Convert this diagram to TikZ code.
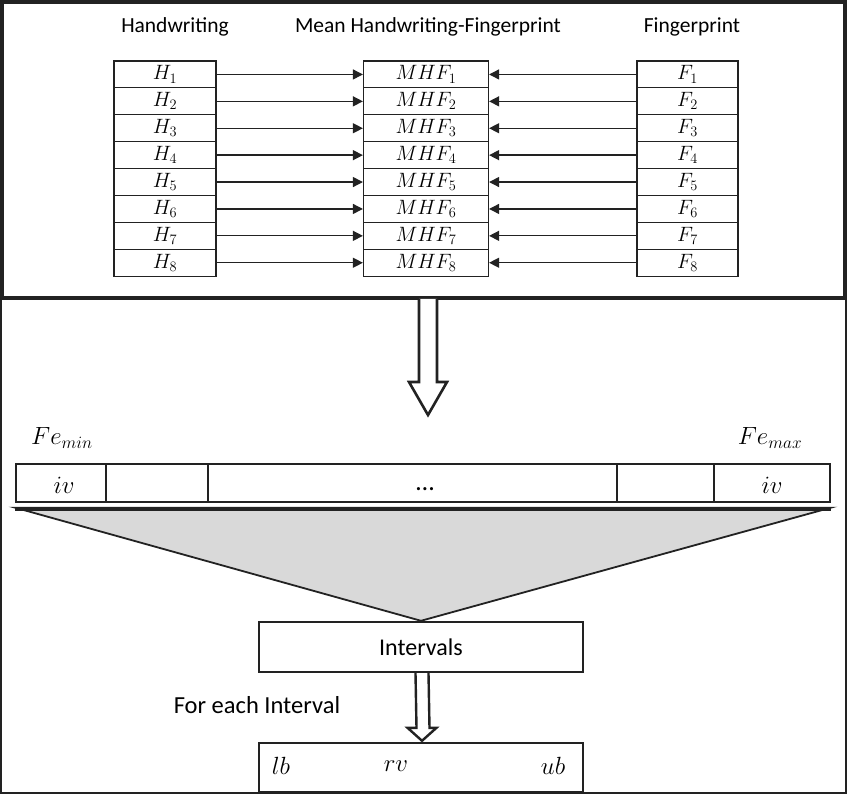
\documentclass[tikz,border=0pt]{standalone}
\usepackage{fontspec}
\setmainfont{Carlito}
\usepackage{xcolor}
\definecolor{ink}{HTML}{222222}
\definecolor{shade}{HTML}{D9D9D9}
\usepackage{amsmath,amssymb}
\usepackage{tikz}
\usetikzlibrary{arrows.meta,positioning,calc}
\tikzset{
    cell/.style={draw=ink, line width=1.2pt, minimum height=26.9pt, inner sep=0pt, font=\fontsize{22}{24}\selectfont},
    header/.style={font=\fontsize{21.5}{25}\selectfont, inner sep=0pt},
    label/.style={font=\fontsize{26}{28}\selectfont, inner sep=0pt},
    stage/.style={draw=ink, line width=2.4pt, minimum width=324pt, inner sep=0pt, font=\fontsize{24}{28}\selectfont},
    arrow/.style={-{Triangle[length=10pt, width=10pt]}, line width=1.3pt, ink},
    hollow/.style={draw=ink, fill=white, line join=miter}
}

\begin{document}
\begin{tikzpicture}[x=1pt, y=-1pt]
  \useasboundingbox (0,0) rectangle (847,794);

  % Outer frame and upper panel
  \draw[ink, line width=2pt] (1,1) rectangle (846,793);
  \draw[ink, line width=4pt] (2,2) rectangle (845,298);

  % Column headers
  \node[header] (hwhead) at (175,27) {Handwriting};
  \node[header] (mhfhead) at (428,27) {Mean Handwriting-Fingerprint};
  \node[header] (fphead) at (692,27) {Fingerprint};

  % Feature rows
  \foreach \i in {1,...,8} {
    \node[cell, minimum width=102pt] (h\i) at (165, 47.55+26.9*\i) {$H_{\i}$};
    \node[cell, minimum width=125pt] (mhf\i) at (426, 47.55+26.9*\i) {$MHF_{\i}$};
    \node[cell, minimum width=101pt] (f\i) at (687.5, 47.55+26.9*\i) {$F_{\i}$};
    \draw[arrow] (h\i) -- (mhf\i);
    \draw[arrow] (f\i) -- (mhf\i);
  }

  % Interval bar
  \node[label] (femin) at (62,438) {$Fe_{min}$};
  \node[label] (femax) at (770,438) {$Fe_{max}$};
  \node[draw=ink, line width=1.4pt, minimum width=814pt, minimum height=38pt, inner sep=0pt] (bar) at (423,483) {};
  \foreach \xd in {106,208,617,714}
    \draw[ink, line width=1.4pt] (\xd,464) -- (\xd,502);
  \node[label] (ivleft) at (64,485) {$iv$};
  \node[label, anchor=base] (dots) at (425,491) {\ldots};
  \node[label] (ivright) at (772,485) {$iv$};

  % Intervals and bounds
  \node[stage, minimum height=50pt] (intervals) at (421,647) {Intervals};
  \node[stage, minimum height=49pt] (bounds) at (421,767.5) {};
  \node[label] (lb) at (281,766) {$lb$};
  \node[label] (rv) at (396,766) {$rv$};
  \node[label] (ub) at (553,766) {$ub$};
  \node[label, font=\fontsize{24.5}{28}\selectfont] (foreach) at (257,705) {For each Interval};

  % Funnel onto the intervals
  \filldraw[fill=shade, draw=ink, line width=1.8pt] (bar.south west) ++(0,5) -- ($(bar.south east)+(0,5)$) -- (intervals.north) -- cycle;
  \draw[ink, line width=4pt] ($(bar.south west)+(0,6)$) -- ($(bar.south east)+(0,6)$);

  % Hollow arrows
  \coordinate (bigtop) at (428,299);
  \coordinate (bigtip) at (428,415);
  \draw[hollow, line width=2.6pt] ($(bigtop)+(-9,0)$) -- ($(bigtip)+(-9,-33)$) -- ($(bigtip)+(-19,-33)$) -- (bigtip)
    -- ($(bigtip)+(19,-33)$) -- ($(bigtip)+(9,-33)$) -- ($(bigtop)+(9,0)$);
  \coordinate (smalltop) at (intervals.south);
  \coordinate (smalltip) at ($(bounds.north)+(1,-1)$);
  \draw[hollow, line width=2.4pt] ($(smalltop)+(-5.5,0)$) -- ($(smalltip)+(-5.5,-13)$) -- ($(smalltip)+(-14.5,-13)$) -- (smalltip)
    -- ($(smalltip)+(14.5,-13)$) -- ($(smalltip)+(7.5,-13)$) -- ($(smalltop)+(7.5,0)$);
\end{tikzpicture}
\end{document}
